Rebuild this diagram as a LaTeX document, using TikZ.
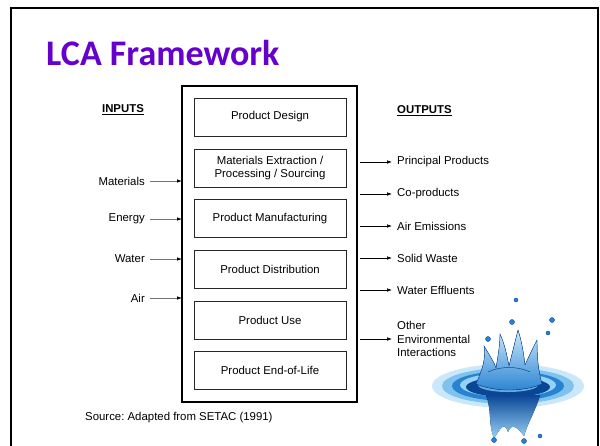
\documentclass[tikz,border=0pt]{standalone}
\usepackage{fontspec}
\setmainfont{Liberation Sans}
\newfontfamily\titlefont{Carlito}
\usetikzlibrary{positioning,arrows.meta}
\frenchspacing

\definecolor{titlepurple}{RGB}{102,0,204}
\definecolor{splashdark}{RGB}{10,70,150}
\definecolor{splashmid}{RGB}{40,130,210}
\definecolor{splashlight}{RGB}{150,210,245}

\tikzset{
	stage/.style={draw=black!85, line width=0.8pt, minimum width=152pt, minimum height=38pt, inner sep=0pt, align=center},
	inlbl/.style={anchor=east, inner sep=1pt},
	outlbl/.style={anchor=west, inner sep=1pt, align=left},
	inarrow/.style={draw=black!55, line width=0.8pt, -{Latex[length=5pt,width=3.6pt,black]}, shorten <=4pt},
	outarrow/.style={draw=black, line width=0.6pt, -{Latex[length=5pt,width=3.6pt]}, shorten <=3pt, shorten >=4pt},
	drop/.style={fill=splashmid, draw=splashdark, line width=0.4pt}
}

\begin{document}
\begin{tikzpicture}[x=1pt, y=-1pt, font=\fontsize{11.4}{13.2}\selectfont]
	\pgfmathsetmacro{\BoxL}{182}
	\pgfmathsetmacro{\BoxR}{357}
	\pgfmathsetmacro{\StageX}{270}
	\useasboundingbox (0,0) rectangle (600,445);
	% slide frame and title
	\draw[line width=2.6pt] (11,446) -- (11,8) -- (598,8) -- (598,446);
	\node[anchor=base west, inner sep=0pt, text=titlepurple, font=\titlefont\bfseries\fontsize{36}{40}\selectfont] (title) at (46,65) {LCA Framework};
	% CENTRE: life cycle stages
	\draw[line width=1.5pt] (\BoxL,86) rectangle (\BoxR,402);
	\coordinate (lcaW) at (\BoxL,240);
	\coordinate (lcaE) at (\BoxR,240);
	\node[stage] (design) at (\StageX,117) {Product Design};
	\node[stage] (extract) at (\StageX,168) {Materials Extraction /\\[-1pt]Processing / Sourcing};
	\node[stage] (manuf) at (\StageX,218.5) {Product Manufacturing};
	\node[stage] (distrib) at (\StageX,269.5) {Product Distribution};
	\node[stage] (use) at (\StageX,320) {Product Use};
	\node[stage] (eol) at (\StageX,370.5) {Product End-of-Life};
	% LEFT
	\node[font=\fontsize{11.4}{13.2}\selectfont\bfseries] (inputs) at (123,110) {\underline{INPUTS}};
	\node[inlbl] (materials) at (146,181) {Materials};
	\node[inlbl] (energy) at (146,219) {Energy};
	\node[inlbl] (water) at (146,259) {Water};
	\node[inlbl] (air) at (146,298) {Air};
	\foreach \n in {materials,energy,water,air}
		\draw[inarrow] (\n.east) -- (\n.east -| lcaW);
	% RIGHT
	\node[font=\fontsize{11.4}{13.2}\selectfont\bfseries, anchor=west, inner sep=0pt] (outputs) at (397,111) {\underline{OUTPUTS}};
	\node[outlbl] (principal) at (396,162) {Principal Products};
	\node[outlbl] (coprod) at (396,194) {Co-products};
	\node[outlbl] (airem) at (396,226) {Air Emissions};
	\node[outlbl] (solid) at (396,258) {Solid Waste};
	\node[outlbl] (effluent) at (396,290) {Water Effluents};
	\node[outlbl] (other) at (396,339) {Other\\Environmental\\Interactions};
	\foreach \n in {principal,coprod,airem,solid,effluent,other}
		\draw[outarrow] (\n.west -| lcaE) -- (\n.west);
	\node[anchor=base west, inner sep=0pt] (source) at (85,420) {Source: Adapted from SETAC (1991)};
	% water splash: rings on the surface
	\fill[splashlight, opacity=0.5] (508,386) ellipse (76 and 22);
	\fill[splashlight!80!splashmid] (508,386) ellipse (66 and 18);
	\fill[splashmid] (508,386) ellipse (56 and 15);
	\fill[splashlight] (508,385) ellipse (48 and 12);
	\fill[splashdark] (508,387) ellipse (42 and 10);
	\fill[splashmid!70!white] (508,385) ellipse (30 and 7);
	% stem below the rings
	\fill[top color=splashdark, bottom color=splashlight] (486,395) .. controls (492,410) and (488,425) .. (494,438) .. controls (500,430) and (504,420) .. (508,432)
		.. controls (512,422) and (518,428) .. (524,436) .. controls (528,422) and (536,410) .. (540,395) -- cycle;
	\fill[drop] (494,440) circle (2.5);
	\fill[drop] (524,441) circle (2.5);
	\fill[drop] (540,436) circle (2);
	% crown
	\fill[top color=splashlight!50!white, bottom color=splashmid, draw=splashdark, line width=0.4pt] (476,384) .. controls (482,370) and (486,360) .. (484,346)
		.. controls (490,356) and (494,362) .. (496,368) .. controls (498,356) and (500,345) .. (500,334)
		.. controls (505,345) and (507,356) .. (509,366) .. controls (512,354) and (515,342) .. (518,330)
		.. controls (522,342) and (524,356) .. (525,365) .. controls (529,356) and (533,348) .. (537,340)
		.. controls (537,356) and (538,370) .. (542,384) .. controls (522,392) and (496,392) .. cycle;
	\draw[splashdark, line width=0.5pt] (488,372) .. controls (500,366) and (518,366) .. (530,372);
	% flying droplets
	\fill[drop] (516,300) circle (2);
	\fill[drop] (512,322) circle (2.5);
	\fill[drop] (552,320) circle (2.5);
	\fill[drop] (548,333) circle (2);
	\fill[drop] (488,339) circle (2.5);
\end{tikzpicture}
\end{document}
